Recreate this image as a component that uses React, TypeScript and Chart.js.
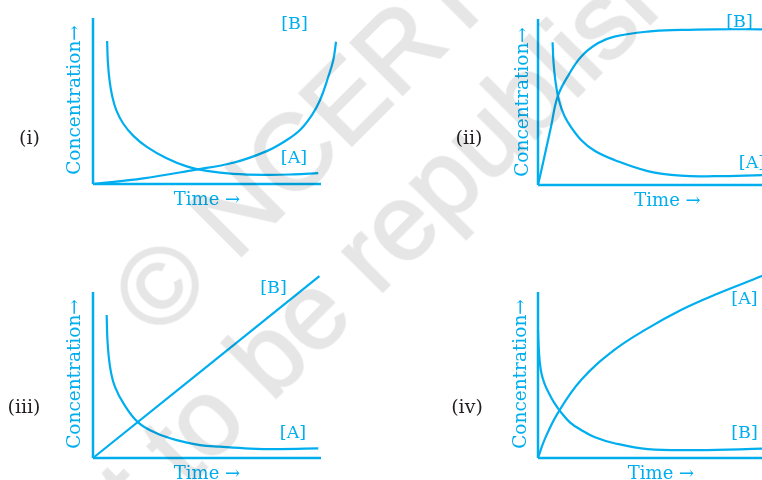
import React, { useEffect, useRef } from "react";
import { Chart, registerables } from "chart.js";

Chart.register(...registerables);

// ---------- data (units: each axis is 100 long) ----------
const axisXLine: [number, number][] = [[0, 0], [100, 0]];
const axisYLine: [number, number][] = [[0, 0], [0, 100]];

// (i)
const p1A: [number, number][] = [[6.2, 86.1], [6.5, 74], [7.2, 63], [8.4, 53], [10.2, 44.5], [13.3, 36.3], [17.7, 29.0], [23.6, 22.4], [32.3, 15.5], [41.1, 10.6], [49.9, 7.9], [61.5, 6.1], [76.2, 5.5], [88, 5.8], [98.8, 6.5]];
const p1B: [number, number][] = [[0, 0], [22.1, 3.4], [44.0, 8.4], [61.5, 12.8], [76.2, 19.8], [85, 26.5], [90.8, 32.5], [96, 41.5], [99.6, 50.6], [103.2, 64.6], [105.4, 74.7], [106.6, 85.7]];
// (ii)
const p2A: [number, number][] = [[6.4, 86], [6.8, 74], [7.6, 63], [8.7, 54], [10.3, 46], [13, 38], [18.9, 27.1], [25, 20.5], [33.5, 15.1], [48.1, 8.4], [62.7, 5.6], [77.3, 5.3], [98.2, 6.0], [106, 6.3]];
const p2B: [number, number][] = [[0, 0], [2.8, 17.0], [5.7, 35.1], [8.6, 53.2], [13.0, 65.3], [18.9, 77.3], [26.2, 85.4], [33.5, 89.4], [48.1, 92.4], [62.7, 93.4], [77.3, 93.8], [98.2, 93.8], [106, 93.8]];
// (iii)
const p3A: [number, number][] = [[6.0, 86.1], [6.3, 72], [6.9, 61], [7.9, 51.5], [9.6, 43.0], [13.3, 33.0], [19.9, 21.3], [27.9, 14.9], [36.7, 10.8], [46.9, 7.8], [55.7, 6.8], [68.9, 5.7], [82.0, 5.4], [98.8, 5.8]];
const p3B: [number, number][] = [[0, 0], [99.3, 109.6]];
// (iv)
const p4A: [number, number][] = [[0, 0], [2.8, 10.8], [8.6, 26.9], [18.9, 47.0], [33.5, 65.1], [48.1, 78.1], [62.7, 89.2], [77.3, 98.2], [98.2, 109.6], [106, 114]];
const p4B: [number, number][] = [[0, 77.1], [0.25, 68], [0.7, 59], [1.5, 51.0], [2.8, 45], [4.6, 39.5], [7, 33.5], [10.1, 27.5], [14, 21.5], [18.9, 16.9], [25, 12.5], [33.5, 8.9], [48.1, 5.4], [70.0, 4.8], [98.2, 5.6], [106, 5.9]];

const panelNames = ["(i)", "(ii)", "(iii)", "(iv)"];
const xTitle = "Time →";
const yTitle = "Concentration→";

// ---------- layout / style ----------
const CYAN = "#00aeef";
const DARK = "#231f20";
const SERIF = '"DejaVu Serif", serif';
const CW = 900;
const CH = 480;
const SX = 2.28; // px per x unit
const SY = 1.66; // px per y unit

type Panel = {
  ox: number; oy: number; xmax: number; ymax: number;
  curves: [number, number][][];
  name: [number, number];
  time: [number, number];
  conc: [number, number];
  labels: { t: string; at: [number, number] }[];
};

const panels: Panel[] = [
  { ox: 93, oy: 184, xmax: 110, ymax: 102, curves: [p1A, p1B], name: [29.5, 137], time: [207, 198.5], conc: [73.5, 100], labels: [{ t: "[B]", at: [294.5, 24] }, { t: "[A]", at: [294, 157.5] }] },
  { ox: 538, oy: 185, xmax: 110, ymax: 102, curves: [p2A, p2B], name: [469, 137], time: [667.5, 199.5], conc: [521.5, 101.5], labels: [{ t: "[B]", at: [739.5, 22] }, { t: "[A]", at: [752, 162.5] }] },
  { ox: 93, oy: 458, xmax: 110, ymax: 112, curves: [p3A, p3B], name: [24, 406], time: [207, 473], conc: [74, 374], labels: [{ t: "[B]", at: [273.5, 288] }, { t: "[A]", at: [293, 433] }] },
  { ox: 538, oy: 458, xmax: 110, ymax: 114, curves: [p4A, p4B], name: [467, 406], time: [661, 473], conc: [520, 374], labels: [{ t: "[A]", at: [744.5, 299] }, { t: "[B]", at: [744.5, 432.5] }] },
];

const toPts = (arr: [number, number][]) => arr.map(([x, y]) => ({ x, y }));

function PanelChart({ p }: { p: Panel }) {
  const ref = useRef<HTMLCanvasElement | null>(null);
  useEffect(() => {
    if (!ref.current) return;
    const axisDs = (d: [number, number][]) => ({
      data: toPts(d), borderColor: CYAN, borderWidth: 2.5, pointRadius: 0, tension: 0, clip: false as any, fill: false,
    });
    const curveDs = (d: [number, number][]) => ({
      data: toPts(d), borderColor: CYAN, borderWidth: 2.2, pointRadius: 0, tension: 0.4, clip: false as any, fill: false,
    });
    const chart = new Chart(ref.current, {
      type: "line",
      data: { datasets: [axisDs(axisXLine), axisDs(axisYLine), ...p.curves.map(curveDs)] },
      options: {
        animation: false,
        responsive: false,
        events: [],
        layout: {
          padding: {
            left: p.ox,
            top: p.oy - p.ymax * SY,
            right: CW - (p.ox + p.xmax * SX),
            bottom: CH - p.oy,
          },
        },
        scales: {
          x: { type: "linear", min: 0, max: p.xmax, display: false },
          y: { type: "linear", min: 0, max: p.ymax, display: false },
        },
        plugins: { legend: { display: false }, tooltip: { enabled: false } },
        elements: { point: { radius: 0 }, line: { capBezierPoints: false } },
      },
    });
    return () => chart.destroy();
  }, [p]);
  return <canvas ref={ref} width={CW} height={CH} style={{ position: "absolute", left: 0, top: 0, width: CW, height: CH }} />;
}

function Txt({ at, text, color, size, rotate }: { at: [number, number]; text: string; color: string; size: number; rotate?: boolean }) {
  return (
    <div
      style={{
        position: "absolute", left: at[0], top: at[1],
        transform: `translate(-50%,-50%)${rotate ? " rotate(-90deg)" : ""}`,
        whiteSpace: "nowrap", fontFamily: SERIF, fontSize: size, lineHeight: 1, color,
      }}
    >
      {text}
    </div>
  );
}

export default function App() {
  return (
    <div style={{ position: "absolute", left: 0, top: 0, width: 762, height: 480, overflow: "hidden", background: "#fff" }}>
      {panels.map((p, i) => <PanelChart key={"c" + i} p={p} />)}
      {panels.map((p, i) => (
        <React.Fragment key={"t" + i}>
          <Txt at={p.name} text={panelNames[i]} color={DARK} size={19} />
          <Txt at={p.time} text={xTitle} color={CYAN} size={18} />
          <Txt at={p.conc} text={yTitle} color={CYAN} size={18.5} rotate />
          {p.labels.map((l, j) => <Txt key={j} at={l.at} text={l.t} color={CYAN} size={17.5} />)}
        </React.Fragment>
      ))}
      <div
        style={{
          position: "absolute", left: 345, top: 188,
          transform: "translate(-50%,-50%) rotate(-45deg)",
          whiteSpace: "pre", textAlign: "center",
          fontFamily: '"Liberation Sans", Arial, sans-serif', fontWeight: 400,
          fontSize: 108, lineHeight: "125px", color: "#e6e6e6",
          WebkitTextStroke: "2px #e6e6e6",
          mixBlendMode: "multiply", pointerEvents: "none",
        }}
      >
        {"© NCERT\nnot to be republished"}
      </div>
    </div>
  );
}
